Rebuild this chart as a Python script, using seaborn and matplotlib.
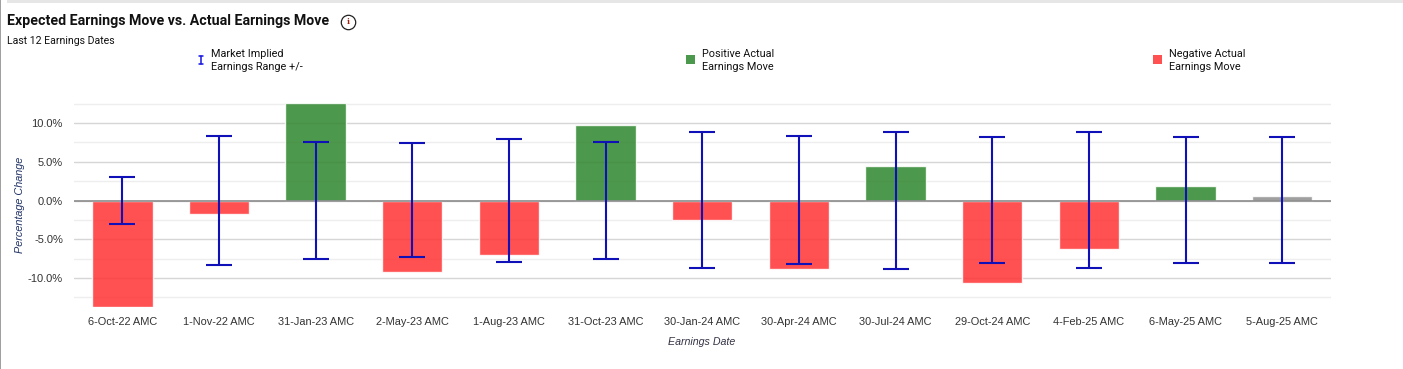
#!/usr/bin/env python
'''
Expected earnings move vs. actual earnings move, last 12 earnings dates.
'''

import matplotlib
matplotlib.use('Agg')
import matplotlib.pyplot as plt
import numpy as np
import pandas as pd
import seaborn as sns
from matplotlib.lines import Line2D
from matplotlib.patches import Circle, Rectangle
from matplotlib.ticker import FixedLocator, FuncFormatter

dates = ['6-Oct-22 AMC', '1-Nov-22 AMC', '31-Jan-23 AMC', '2-May-23 AMC', '1-Aug-23 AMC',
         '31-Oct-23 AMC', '30-Jan-24 AMC', '30-Apr-24 AMC', '30-Jul-24 AMC', '29-Oct-24 AMC',
         '4-Feb-25 AMC', '6-May-25 AMC', '5-Aug-25 AMC']
actual_move = [-13.7, -1.7, 12.6, -9.2, -7.0, 9.8, -2.5, -8.8, 4.4, -10.6, -6.3, 1.9, 0.6]
range_upper = [3.1, 8.4, 7.5, 7.4, 8.0, 7.5, 8.8, 8.4, 8.9, 8.2, 8.8, 8.2, 8.2]
range_lower = [-3.0, -8.3, -7.5, -7.3, -7.9, -7.5, -8.7, -8.2, -8.8, -8.1, -8.7, -8.1, -8.1]
move_kind = ['neg', 'neg', 'pos', 'neg', 'neg', 'pos', 'neg', 'neg', 'pos', 'neg', 'neg', 'pos', 'open']

W, H = 1403, 369
RED = '#ff3335'
GREEN = '#2f872f'
GREY = '#8f8f8f'
BLUE = '#1010b8'
TEXT = '#333333'

sns.set_theme(style='white')
plt.rcParams['font.family'] = ['Liberation Sans', 'DejaVu Sans']

fig = plt.figure(figsize=(W / 100, H / 100), dpi=100, facecolor='white')

def fx(px):
    return px / W

def fy(py):
    return 1 - py / H

# page furniture around the chart
fig.add_artist(Rectangle((fx(7), fy(3)), fx(W - 7), 3 / H, transform=fig.transFigure, color='#e6e6e6', lw=0))
fig.add_artist(Rectangle((0, 0), fx(1.2), 1, transform=fig.transFigure, color='#a0a0a0', lw=0))

ax = fig.add_axes([fx(74), fy(307), fx(1330.5 - 74), (307 - 103) / H])

df = pd.DataFrame({'date': dates, 'move': actual_move, 'kind': move_kind})
sns.barplot(data=df, x='date', y='move', hue='kind', dodge=False, width=0.625, legend=False, ax=ax,
            palette={'neg': RED, 'pos': GREEN, 'open': GREY}, saturation=1, alpha=0.86, zorder=2)

xpos = np.arange(len(dates))
upper = np.array(range_upper)
lower = np.array(range_lower)
mid = (upper + lower) / 2
ax.errorbar(xpos, mid, yerr=(upper - lower) / 2, fmt='none', ecolor=BLUE, elinewidth=1.5,
            capsize=9.7, capthick=1.5, zorder=4)

ax.axhline(0, color='#8c8c8c', lw=1.2, zorder=3)
ax.set_xlim(-0.5, len(dates) - 0.5)
ax.set_ylim(-13.75, 12.6)

ax.yaxis.set_major_locator(FixedLocator([-10, -5, 0, 5, 10]))
ax.yaxis.set_minor_locator(FixedLocator([-12.5, -7.5, -2.5, 2.5, 7.5, 12.5]))
ax.yaxis.set_major_formatter(FuncFormatter(lambda v, _: f'{v:.1f}%'))
ax.grid(True, which='major', axis='y', color='#d6d6d6', lw=1, zorder=0)
ax.grid(True, which='minor', axis='y', color='#eeeeee', lw=1, zorder=0)
ax.grid(False, axis='x')
ax.set_axisbelow(True)
for s in ax.spines.values():
    s.set_visible(False)
ax.tick_params(axis='y', which='both', length=0, pad=8, labelsize=8, labelcolor=TEXT)
ax.tick_params(axis='x', length=0, pad=7, labelsize=7.9, labelcolor=TEXT)
ax.set_xlabel('')
ax.set_ylabel('')

fig.text(fx(702), fy(342), 'Earnings Date', ha='center', va='center', fontsize=7.7, style='italic', color='#333344')
fig.text(fx(20), fy(205), 'Percentage Change', ha='center', va='center', rotation=90, fontsize=7.8,
         style='italic', color='#223366')

# headers
fig.text(fx(7), fy(21), 'Expected Earnings Move vs. Actual Earnings Move', ha='left', va='center',
         fontsize=10.2, fontweight='bold', family=['Roboto', 'DejaVu Sans'], color='#111111')
fig.text(fx(7), fy(41), 'Last 12 Earnings Dates', ha='left', va='center', fontsize=7.6,
         family=['Roboto', 'DejaVu Sans'], color='#111111')

# info icon
fig.add_artist(Circle((348.5, H - 22.5), 7.2, transform=None, fill=False, ec='#222222', lw=0.9))
fig.text(fx(348.5), fy(22.5), 'i', ha='center', va='center', fontsize=5.5, fontweight='bold',
         family=['DejaVu Serif'], color='#a02010')

# legend row
legend_text = [(211.5, 'Market Implied\nEarnings Range +/-'),
               (702.5, 'Positive Actual\nEarnings Move'),
               (1169, 'Negative Actual\nEarnings Move')]
for x, label in legend_text:
    fig.text(fx(x), fy(60.5), label, ha='left', va='center', fontsize=7.8, linespacing=1.38,
             family=['Roboto', 'DejaVu Sans'], color='#111111')

for xs, ys in [([201, 201], [55.5, 63.5]), ([198.5, 203.5], [55.5, 55.5]), ([198.5, 203.5], [63.5, 63.5])]:
    fig.add_artist(Line2D([fx(v) for v in xs], [fy(v) for v in ys], transform=fig.transFigure,
                          color='#1515e0', lw=1.1))
fig.add_artist(Rectangle((fx(686), fy(64)), fx(9), 9 / H, transform=fig.transFigure, color=GREEN, alpha=0.86, lw=0))
fig.add_artist(Rectangle((fx(1153), fy(64)), fx(9), 9 / H, transform=fig.transFigure, color=RED, alpha=0.86, lw=0))

fig.savefig('out.png', dpi=100)
plt.close()
